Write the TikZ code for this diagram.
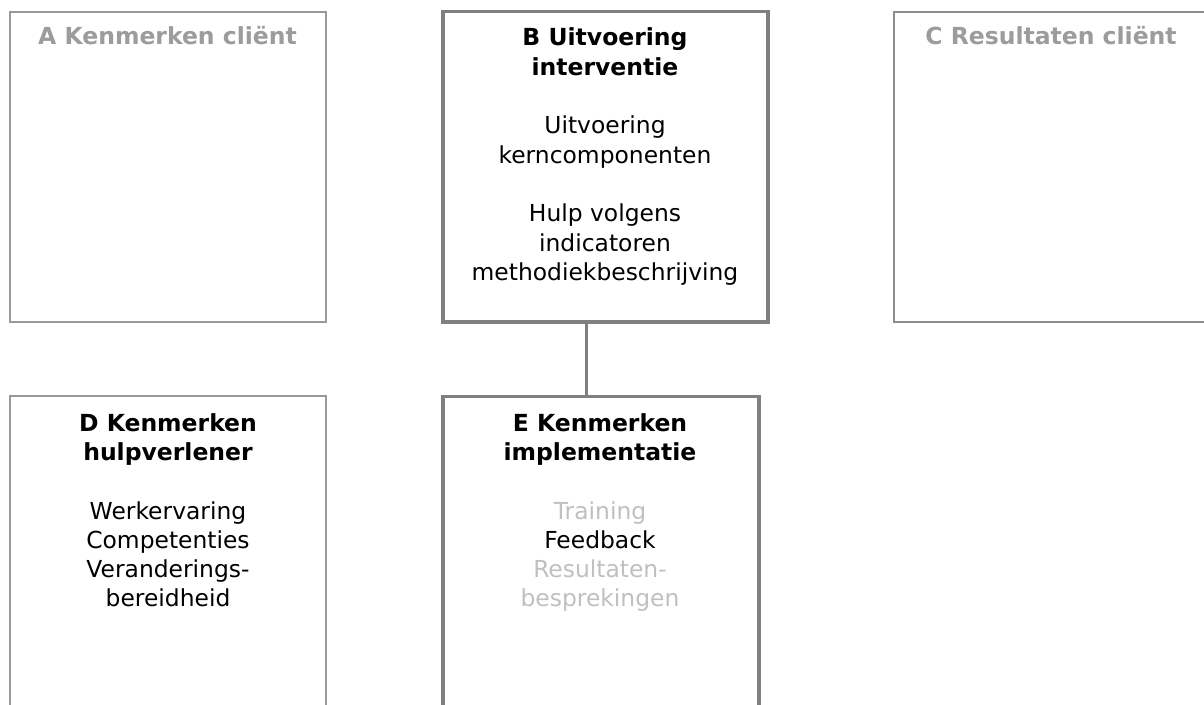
\documentclass[tikz,border=0pt]{standalone}
\usepackage{fontspec}
\setmainfont{DejaVu Sans}
\definecolor{lightborder}{HTML}{999999}
\definecolor{darkborder}{HTML}{808080}
\definecolor{greytitle}{HTML}{9C9C9C}
\definecolor{palegrey}{HTML}{C0C0C0}
\tikzset{
  thinbox/.style={draw=lightborder, line width=2bp, minimum width=316bp, inner sep=0pt},
  thickbox/.style={draw=darkborder, line width=3.5bp, inner sep=0pt},
  txt/.style={anchor=base, inner sep=0pt, font=\fontsize{23.4bp}{29bp}\selectfont},
  ttl/.style={txt, font=\fontsize{23.5bp}{29bp}\selectfont\bfseries},
  link/.style={draw=darkborder, line width=3bp}
}
\begin{document}
\begin{tikzpicture}[x=1bp, y=-1bp]
\useasboundingbox[fill=white] (0,0) rectangle (1204,705);
% boxes
\node[thinbox, minimum height=310bp] (A) at (168,167) {};
\node[thickbox, minimum width=325bp, minimum height=310.5bp] (B) at (605.5,166.75) {};
\node[thinbox, draw=darkborder!90, minimum width=326bp, minimum height=310bp] (C) at (1057,167) {};
\node[thinbox, minimum height=324bp] (D) at (168,558) {};
\node[thickbox, minimum width=316bp, minimum height=323bp] (E) at (601,558) {};
% connector
\draw[link] ([xshift=-19.5bp]B.south) -- ([xshift=-19.5bp]B.south |- E.north);
% A
\node[ttl, text=greytitle] (At) at (167.5,45) {A Kenmerken cliënt};
% B
\node[ttl] (Bt1) at (605,46) {B Uitvoering};
\node[ttl] (Bt2) at (605,75.3) {interventie};
\node[txt] (Bb1) at (605,134) {Uitvoering};
\node[txt] (Bb2) at (605,163.2) {kerncomponenten};
\node[txt] (Bb3) at (605,221.8) {Hulp volgens};
\node[txt] (Bb4) at (605,251) {indicatoren};
\node[txt] (Bb5) at (605,280.3) {methodiekbeschrijving};
% C
\node[ttl, text=greytitle] (Ct) at (1051,45) {C Resultaten cliënt};
% D
\node[ttl] (Dt1) at (168,431) {D Kenmerken};
\node[ttl] (Dt2) at (168,460.3) {hulpverlener};
\node[txt] (Db1) at (168,519) {Werkervaring};
\node[txt] (Db2) at (168,548.2) {Competenties};
\node[txt] (Db3) at (168,577.5) {Veranderings-};
\node[txt] (Db4) at (168,606.8) {bereidheid};
% E
\node[ttl] (Et1) at (600,431) {E Kenmerken};
\node[ttl] (Et2) at (600,460.3) {implementatie};
\node[txt, text=palegrey] (Eb1) at (600,519) {Training};
\node[txt] (Eb2) at (600,548.2) {Feedback};
\node[txt, text=palegrey] (Eb3) at (600,577.5) {Resultaten-};
\node[txt, text=palegrey] (Eb4) at (600,606.8) {besprekingen};
\end{tikzpicture}
\end{document}
